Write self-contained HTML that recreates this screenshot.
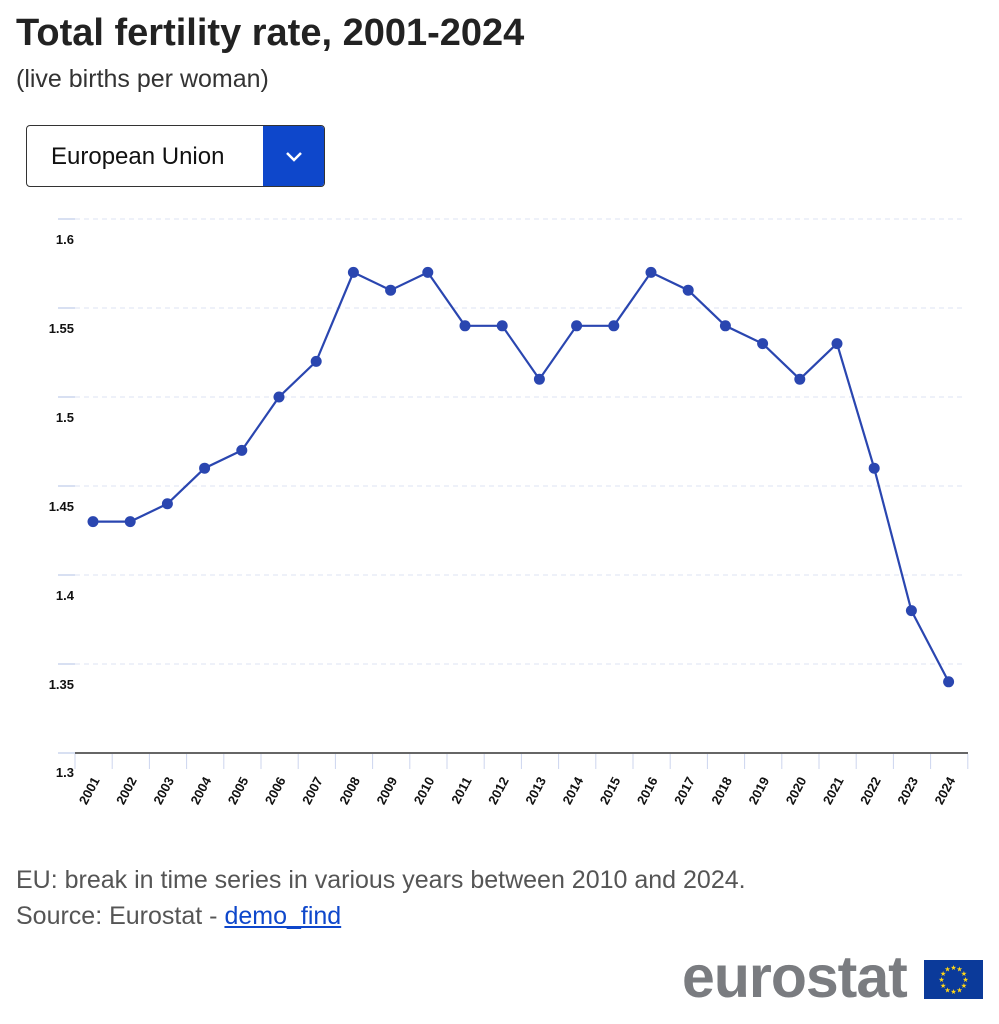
<!DOCTYPE html>
<html><head><meta charset="utf-8"><style>
body{margin:0;width:999px;height:1024px;background:#fff;font-family:"Liberation Sans",Arial,sans-serif;position:relative;overflow:hidden}
.a{position:absolute;white-space:nowrap}
</style></head><body>
<div class="a" style="left:16px;top:12px;font-size:38px;font-weight:bold;color:#222">Total fertility rate, 2001-2024</div>
<div class="a" style="left:16px;top:65px;font-size:25px;color:#333">(live births per woman)</div>
<div class="a" style="left:26px;top:125px;width:297px;height:60px;border:1px solid #333;border-radius:4px;overflow:hidden">
<div class="a" style="left:24px;top:17px;font-size:24px;color:#111">European Union</div>
<div class="a" style="left:236px;top:0;width:62px;height:60px;background:#0e47cb">
<svg width="62" height="60"><polyline points="24,27 31,34 38,27" fill="none" stroke="#fff" stroke-width="2.5"/></svg></div></div>
<svg class="a" style="left:0;top:0" width="999" height="1024" id="s"></svg>
<div class="a" style="left:16px;top:866px;font-size:25px;color:#555">EU: break in time series in various years between 2010 and 2024.</div>
<div class="a" style="left:16px;top:902px;font-size:25px;color:#555">Source: Eurostat - <span style="color:#0e47cb;text-decoration:underline">demo_find</span></div>
<div class="a" style="left:682px;top:943px;font-size:59px;font-weight:bold;color:#7a7c80;letter-spacing:-1px">eurostat</div>
<svg class="a" style="left:924px;top:960px" width="59" height="39"><rect width="59" height="39" fill="#0b3a9a"/><g id="st"></g></svg>
<script>
var s=document.getElementById('s'),h='';
function Y(v){return 219+(1.6-v)*1780}
var labs=['1.6','1.55','1.5','1.45','1.4','1.35'];
for(var i=0;i<6;i++){var y=219+i*89;
h+='<line x1="58" x2="75" y1="'+y+'" y2="'+y+'" stroke="#ccd5ee" stroke-width="1.5"/>';
h+='<line x1="75" x2="965" y1="'+y+'" y2="'+y+'" stroke="#dde3f3" stroke-width="1" stroke-dasharray="5,4"/>';
h+='<text x="74" y="'+(y+25)+'" text-anchor="end" font-size="13" font-weight="bold" fill="#111">'+labs[i]+'</text>';}
h+='<line x1="58" x2="75" y1="753" y2="753" stroke="#ccd5ee" stroke-width="1.5"/>';
h+='<text x="74" y="777" text-anchor="end" font-size="13" font-weight="bold" fill="#111">1.3</text>';
h+='<line x1="75" x2="968" y1="753" y2="753" stroke="#333" stroke-width="1.5"/>';
var st=37.2;
for(var i=0;i<=24;i++){var x=75+i*st;h+='<line x1="'+x+'" x2="'+x+'" y1="754" y2="769" stroke="#ccd5ee"/>';}
var d=[1.43,1.43,1.44,1.46,1.47,1.5,1.52,1.57,1.56,1.57,1.54,1.54,1.51,1.54,1.54,1.57,1.56,1.54,1.53,1.51,1.53,1.46,1.38,1.34],p=[];
for(var i=0;i<24;i++){var x=93+i*st;p.push(x+','+Y(d[i]));
h+='<text transform="translate('+(x+7)+',780) rotate(-62)" text-anchor="end" font-size="13" font-weight="bold" fill="#111">'+(2001+i)+'</text>';}
h+='<polyline points="'+p.join(' ')+'" fill="none" stroke="#2a46b0" stroke-width="2.2"/>';
for(var i=0;i<24;i++){h+='<circle cx="'+(93+i*st)+'" cy="'+Y(d[i])+'" r="5.5" fill="#2a46b0"/>';}
s.innerHTML=h;
var g='';for(var i=0;i<12;i++){var a=i*Math.PI/6;g+='<text x="'+(29.5+12*Math.cos(a))+'" y="'+(22+12*Math.sin(a))+'" font-size="7" fill="#ffd617" text-anchor="middle">★</text>';}
document.getElementById('st').innerHTML=g;
</script>
</body></html>
